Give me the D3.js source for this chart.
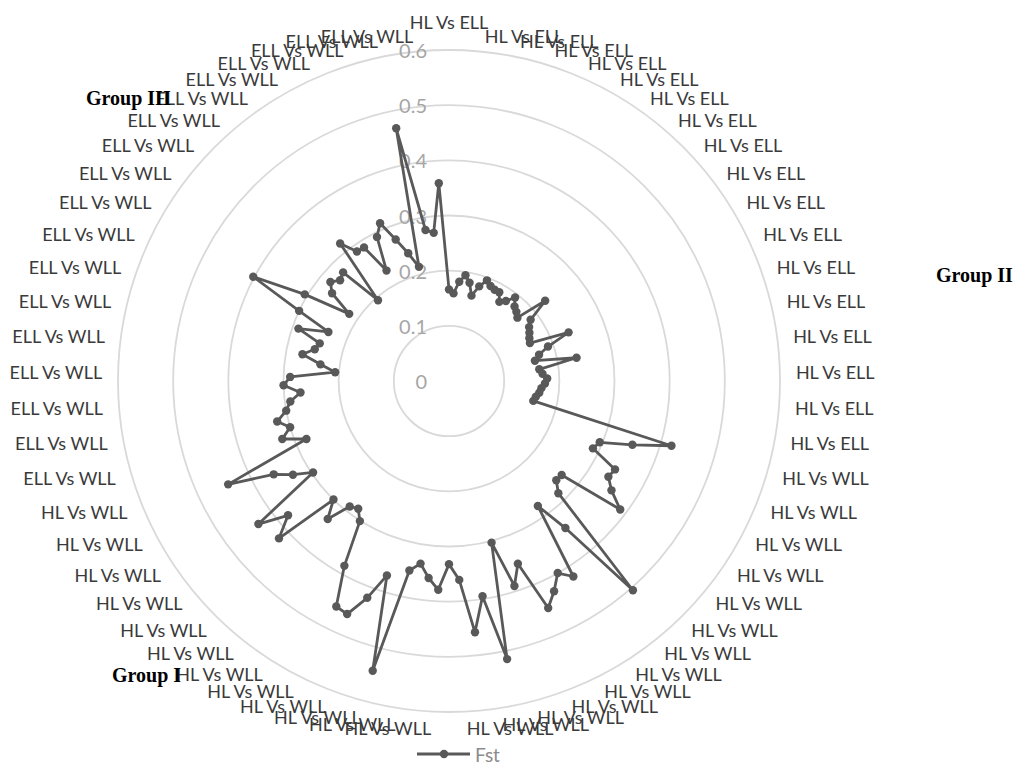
<!DOCTYPE html>
<html>
<head>
<meta charset="utf-8">
<script src="https://cdn.jsdelivr.net/npm/d3@7"></script>
<style>
  body { margin: 0; background: #ffffff; }
  svg { display: block; }
</style>
</head>
<body>
<svg id="chart" width="1021" height="765"></svg>
<script>
// Pairwise comparison groups, in the order they run clockwise from the top
const groupNames = ["HL Vs ELL", "HL Vs WLL", "ELL Vs WLL"];
const groupSizes = [36, 50, 36];

// Fst value for every pairwise comparison, clockwise from the top
const fst = [
  0.166, 0.159, 0.181, 0.194, 0.182, 0.160, 0.180, 0.195, 0.188, 0.185,
  0.185, 0.170, 0.178, 0.193, 0.180, 0.175, 0.169, 0.227, 0.185, 0.175,
  0.170, 0.165, 0.162, 0.234, 0.190, 0.170, 0.160, 0.235, 0.165, 0.170,
  0.178, 0.174, 0.168, 0.165, 0.160, 0.157,
  0.420, 0.352, 0.295, 0.288, 0.341, 0.337, 0.355, 0.388, 0.266, 0.265,
  0.284, 0.505, 0.340, 0.278, 0.420, 0.400, 0.426, 0.449, 0.354, 0.390,
  0.303, 0.515, 0.395, 0.458, 0.361, 0.332, 0.379, 0.359, 0.335, 0.351,
  0.543, 0.370, 0.420, 0.461, 0.457, 0.385, 0.301, 0.284, 0.290, 0.333,
  0.300, 0.420, 0.380, 0.432, 0.297, 0.330, 0.360, 0.442, 0.279, 0.320,
  0.300, 0.320, 0.300, 0.290, 0.270, 0.300, 0.288, 0.207, 0.235, 0.270,
  0.250, 0.244, 0.289, 0.236, 0.300, 0.402, 0.305, 0.218, 0.265, 0.280,
  0.269, 0.275, 0.195, 0.318, 0.288, 0.287, 0.230, 0.292, 0.312, 0.274,
  0.243, 0.214, 0.468, 0.277, 0.270, 0.359
];

const valueTicks = [0, 0.1, 0.2, 0.3, 0.4, 0.5, 0.6];
const seriesName = "Fst";
const groupLabels = ["Group I", "Group II", "Group III"];

// Category names: one per comparison, grouped
const categories = [];
groupNames.forEach((g, i) => { for (let k = 0; k < groupSizes[i]; k++) categories.push(g); });

const svg = d3.select("#chart");
const cx = 449, cy = 381, R = 331;
const lineColor = "#595959";

svg.append("rect").attr("width", 1021).attr("height", 765).attr("fill", "#ffffff");

const r = d3.scaleLinear().domain([0, 0.6]).range([0, R]);
const angle = d3.scaleLinear().domain([0, categories.length]).range([0, 2 * Math.PI]);

const g = svg.append("g").attr("transform", `translate(${cx},${cy})`);

// Concentric gridlines
g.selectAll("circle.grid")
  .data(valueTicks.filter(v => v > 0))
  .join("circle")
  .attr("class", "grid")
  .attr("r", d => r(d))
  .attr("fill", "none")
  .attr("stroke", "#d9d9d9")
  .attr("stroke-width", 1.8);

// Value axis labels
g.selectAll("text.tick")
  .data(valueTicks)
  .join("text")
  .attr("class", "tick")
  .attr("x", -22)
  .attr("y", d => -r(d))
  .attr("text-anchor", "end")
  .attr("dominant-baseline", "central")
  .attr("font-family", "Lato, 'Open Sans', sans-serif")
  .attr("font-size", 20)
  .attr("fill", "#a6a6a6")
  .text(d => d3.format("~g")(d));

// Category labels (every second comparison is labelled)
const labelR = R + 16;
const labelled = categories.map((c, i) => ({ c, i })).filter(d => d.i % 2 === 0);
g.selectAll("text.cat")
  .data(labelled)
  .join("text")
  .attr("class", "cat")
  .each(function (d) {
    const a = angle(d.i);
    const s = Math.sin(a), c = Math.cos(a);
    let x = labelR * s, y = -labelR * c;
    let anchor = "start";
    if (Math.abs(s) < 1e-6) { anchor = "middle"; y += c > 0 ? -12 : 12; }
    else if (s < 0) anchor = "end";
    d3.select(this)
      .attr("x", x).attr("y", y)
      .attr("text-anchor", anchor)
      .attr("dominant-baseline", "central");
  })
  .attr("font-family", "Lato, 'Open Sans', sans-serif")
  .attr("font-size", 18)
  .attr("fill", "#3a3a3a")
  .text(d => d.c);

// Data line, closed around the circle
const radial = d3.lineRadial()
  .angle((d, i) => angle(i))
  .radius(d => r(d))
  .curve(d3.curveLinearClosed);

g.append("path")
  .datum(fst)
  .attr("d", radial)
  .attr("fill", "none")
  .attr("stroke", lineColor)
  .attr("stroke-width", 2.8)
  .attr("stroke-linejoin", "round");

g.selectAll("circle.pt")
  .data(fst)
  .join("circle")
  .attr("class", "pt")
  .attr("cx", (d, i) => r(d) * Math.sin(angle(i)))
  .attr("cy", (d, i) => -r(d) * Math.cos(angle(i)))
  .attr("r", 4.2)
  .attr("fill", lineColor);

// Legend
const lg = svg.append("g").attr("transform", "translate(417,754)");
lg.append("line").attr("x1", 0).attr("x2", 53).attr("y1", 0).attr("y2", 0)
  .attr("stroke", lineColor).attr("stroke-width", 2.8);
lg.append("circle").attr("cx", 27).attr("cy", 0).attr("r", 4.2).attr("fill", lineColor);
lg.append("text").attr("x", 58).attr("y", 0)
  .attr("dominant-baseline", "central")
  .attr("font-family", "Lato, 'Open Sans', sans-serif")
  .attr("font-size", 19)
  .attr("fill", "#8c8c8c")
  .text(seriesName);

// Group annotations
const groupPos = [[112, 675], [936, 275], [86, 98]];
svg.selectAll("text.group")
  .data(groupLabels)
  .join("text")
  .attr("class", "group")
  .attr("x", (d, i) => groupPos[i][0])
  .attr("y", (d, i) => groupPos[i][1])
  .attr("dominant-baseline", "central")
  .attr("font-family", "'Liberation Serif', 'Times New Roman', serif")
  .attr("font-weight", "bold")
  .attr("font-size", 20)
  .attr("fill", "#000000")
  .text(d => d);
</script>
</body>
</html>
